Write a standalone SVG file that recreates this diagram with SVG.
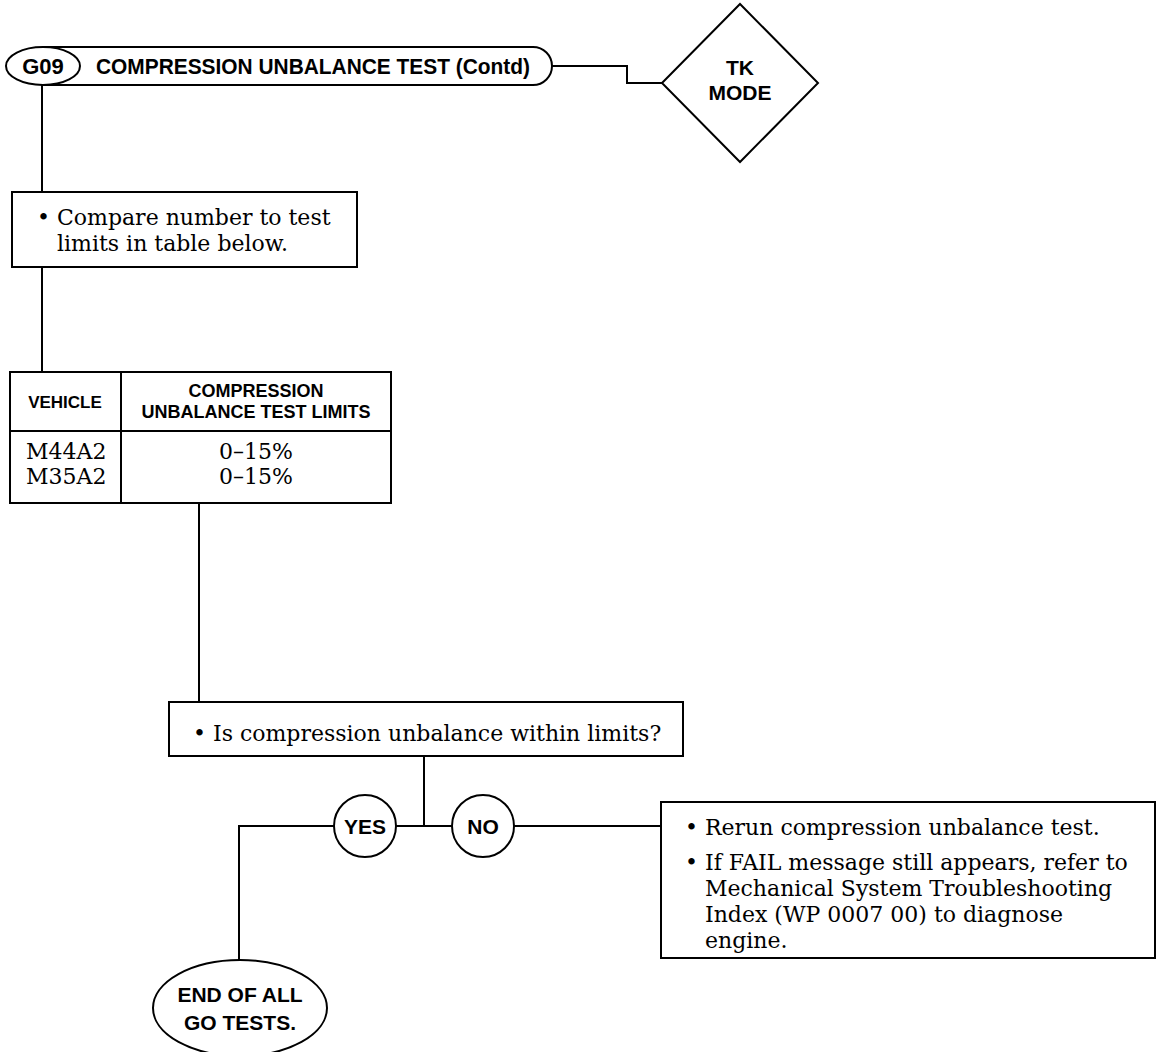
<svg xmlns="http://www.w3.org/2000/svg" width="1157" height="1052" viewBox="0 0 1157 1052">
<style>
.ln{fill:none;stroke:#000;stroke-width:2}
.bx{fill:#fff;stroke:#000;stroke-width:2}
.h{font-family:"Liberation Sans",Arial,sans-serif;font-weight:bold;fill:#000}
.s{font-family:"DejaVu Serif","Liberation Serif",serif;font-size:22px;fill:#000}
</style>
<rect width="1157" height="1052" fill="#fff"/>
<g id="connectors">
<path class="ln" d="M552 66 H627 V83 H662"/>
<path class="ln" d="M42 85 V192"/>
<path class="ln" d="M42 267 V372"/>
<path class="ln" d="M199 503 V702"/>
<path class="ln" d="M424 756 V826"/>
<path class="ln" d="M239 960 V826 H334"/>
<path class="ln" d="M396 826 H452"/>
<path class="ln" d="M514 826 H661"/>
</g>
<g id="title">
<path class="bx" d="M43 47 H533 A19 19 0 0 1 533 85 H43 Z"/>
<text class="h" x="96" y="74" font-size="22" textLength="434" lengthAdjust="spacingAndGlyphs">COMPRESSION UNBALANCE TEST (Contd)</text>
</g>
<g id="g09">
<ellipse class="bx" cx="43" cy="66" rx="37" ry="19"/>
<text class="h" x="43" y="74" font-size="22" text-anchor="middle">G09</text>
</g>
<g id="tkmode">
<polygon class="bx" points="662,83 740,4 818,83 740,162"/>
<text class="h" x="740" y="75" font-size="21" text-anchor="middle">TK</text>
<text class="h" x="740" y="100" font-size="21" text-anchor="middle">MODE</text>
</g>
<g id="compare">
<rect class="bx" x="12" y="192" width="345" height="75"/>
<text class="s" x="37" y="225">• Compare number to test</text>
<text class="s" x="57" y="251">limits in table below.</text>
</g>
<g id="table">
<rect class="bx" x="10" y="372" width="381" height="131"/>
<path class="ln" d="M10 431 H391 M121 372 V503"/>
<text class="h" x="65" y="408" font-size="17" text-anchor="middle">VEHICLE</text>
<text class="h" x="256" y="397" font-size="18" text-anchor="middle">COMPRESSION</text>
<text class="h" x="256" y="418" font-size="18" text-anchor="middle">UNBALANCE TEST LIMITS</text>
<text class="s" x="26" y="459">M44A2</text>
<text class="s" x="26" y="484">M35A2</text>
<text class="s" x="256" y="459" text-anchor="middle">0–15%</text>
<text class="s" x="256" y="484" text-anchor="middle">0–15%</text>
</g>
<g id="question">
<rect class="bx" x="169" y="702" width="514" height="54"/>
<text class="s" x="193" y="741">• Is compression unbalance within limits?</text>
</g>
<g id="yes">
<circle class="bx" cx="365" cy="826" r="31"/>
<text class="h" x="365" y="834" font-size="21" text-anchor="middle">YES</text>
</g>
<g id="no">
<circle class="bx" cx="483" cy="826" r="31"/>
<text class="h" x="483" y="834" font-size="21" text-anchor="middle">NO</text>
</g>
<g id="rerun">
<rect class="bx" x="661" y="802" width="494" height="156"/>
<text class="s" x="685" y="835">• Rerun compression unbalance test.</text>
<text class="s" x="685" y="870">• If FAIL message still appears, refer to</text>
<text class="s" x="705" y="896">Mechanical System Troubleshooting</text>
<text class="s" x="705" y="922">Index (WP 0007 00) to diagnose</text>
<text class="s" x="705" y="948">engine.</text>
</g>
<g id="end">
<ellipse class="bx" cx="240" cy="1008" rx="87" ry="48"/>
<text class="h" x="240" y="1002" font-size="21" text-anchor="middle">END OF ALL</text>
<text class="h" x="240" y="1030" font-size="21" text-anchor="middle">GO TESTS.</text>
</g>
</svg>
